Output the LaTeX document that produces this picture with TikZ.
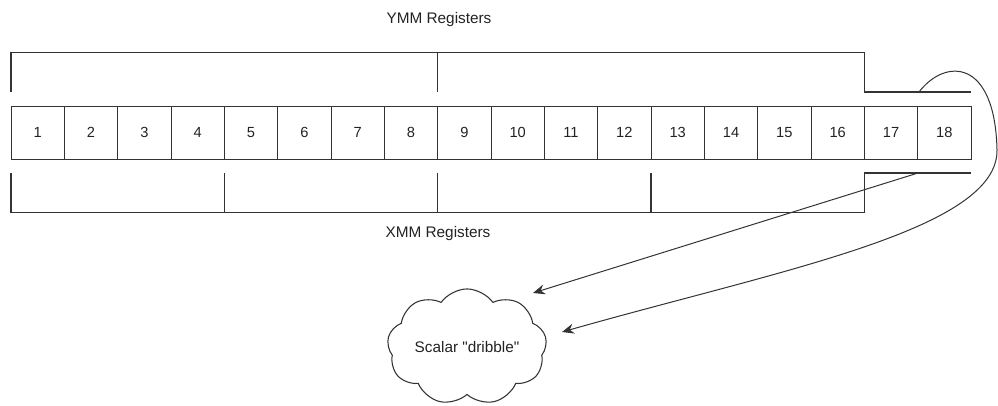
\documentclass[tikz,border=0pt]{standalone}
\usepackage{fontspec}
\setmainfont{Liberation Sans}[Ligatures=TeXOff]
\usepackage{tikz}
\usetikzlibrary{arrows.meta,shapes.symbols}
\definecolor{RegLine}{HTML}{333333}
\definecolor{RegText}{HTML}{222222}

\begin{document}
\begin{tikzpicture}[x=0.75pt, y=-0.75pt,
  cell/.style={draw=RegLine, line width=0.75pt, minimum width=40pt, minimum height=39.75pt,
    inner sep=0pt, outer sep=0pt, font=\fontsize{11}{13}\selectfont, text=RegText},
  reg/.style={draw=RegLine, line width=0.8pt},
  lbl/.style={font=\fontsize{11.5}{13}\selectfont, text=RegText},
  feed/.style={draw=RegLine, line width=0.75pt, -{Stealth[length=9pt, width=7.5pt, inset=3pt]}}]
  \useasboundingbox (0,0) rectangle (998,405);

  %% Register lanes
  \foreach \i in {1,...,18} {%
    \node[cell] (c\i) at ({11+(\i-0.5)*160/3},132.5) {\i};
  }

  %% YMM brackets
  \draw[reg] (11,92) -- (11,52.5) -- (864.3,52.5) -- (864.3,92) -- (971,92);
  \draw[reg] (437.7,52.5) -- (437.7,92);
  \node[lbl] (ymm) at (439,20) {YMM Registers};

  %% XMM brackets
  \draw[reg] (11,173) -- (11,212.5) -- (864.3,212.5) -- (864.3,173) -- (971,173);
  \foreach \x in {224.3,437.7,651} {%
    \draw[reg] (\x,173) -- (\x,212.5);
  }
  \node[lbl] (xmm) at (438,234) {XMM Registers};

  %% Scalar leftovers
  \node[cloud, cloud puffs=9, cloud puff arc=110, aspect=1.6, draw=RegLine, line width=0.8pt,
    minimum width=118pt, minimum height=0pt, inner sep=1pt, lbl] (dribble) at (467,347)
    {Scalar "dribble"};
  \coordinate (xfrom) at (918,173);
  \coordinate (xto) at (533,293);
  \coordinate (yfrom) at (919,92);
  \coordinate (ybend) at (997,150);
  \coordinate (yto) at (562,332);
  \draw[feed] (xfrom) -- (xto);
  \draw[feed] (yfrom) .. controls (945,58) and (995,58) .. (ybend)
    .. controls (998,230) and (780,270) .. (yto);
\end{tikzpicture}
\end{document}
